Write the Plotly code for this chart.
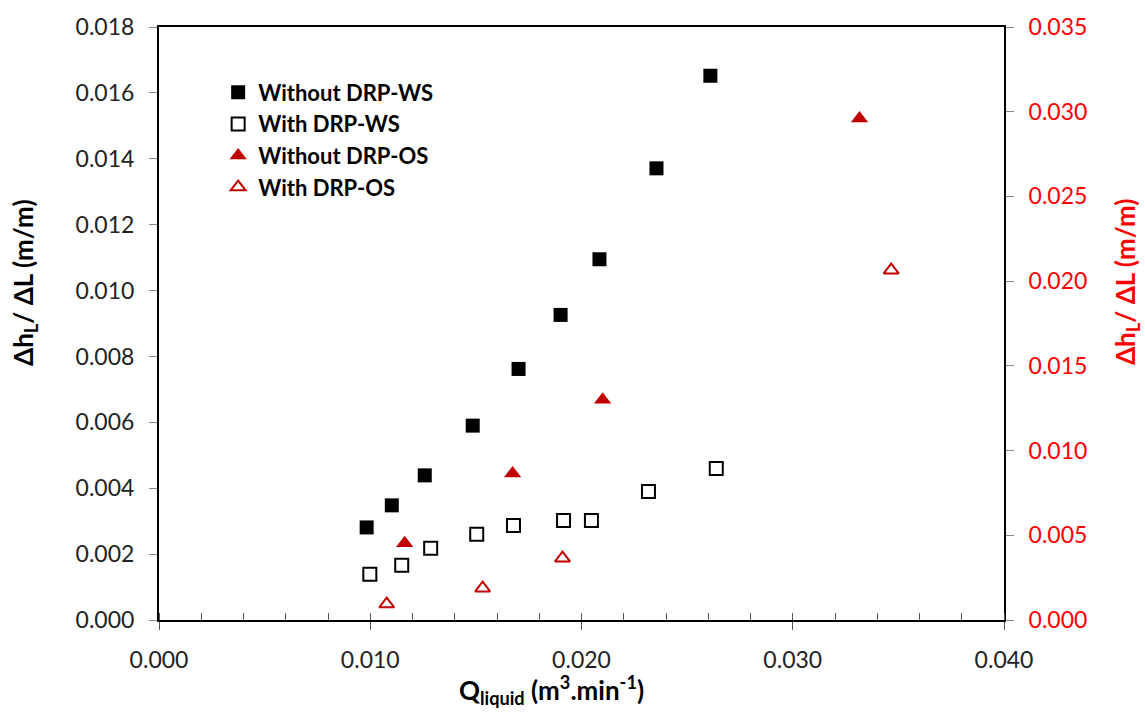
import plotly.graph_objects as go

# Data
q_wo_ws = [0.00983, 0.01102, 0.01258, 0.01485, 0.01702, 0.01901, 0.02085, 0.02355, 0.0261]
h_wo_ws = [0.00281, 0.00348, 0.00439, 0.00590, 0.00762, 0.00926, 0.01095, 0.01371, 0.01652]

q_w_ws = [0.00998, 0.01149, 0.01286, 0.01504, 0.01678, 0.01915, 0.02047, 0.02317, 0.02638]
h_w_ws = [0.00139, 0.00166, 0.00218, 0.00260, 0.00287, 0.00302, 0.00302, 0.00390, 0.00460]

q_wo_os = [0.01163, 0.01674, 0.02100, 0.03316]
h_wo_os = [0.00453, 0.00865, 0.01300, 0.02960]

q_w_os = [0.01078, 0.01532, 0.01910, 0.03466]
h_w_os = [0.00094, 0.00188, 0.00365, 0.02065]

RED = "#C00000"
FONT = "Lato"

fig = go.Figure()
fig.add_trace(go.Scatter(x=q_wo_ws, y=h_wo_ws, mode="markers", name="Without DRP-WS",
                         marker=dict(symbol="square", size=14, color="black")))
fig.add_trace(go.Scatter(x=q_w_ws, y=h_w_ws, mode="markers", name="With DRP-WS",
                         marker=dict(symbol="square-open", size=13, color="black", line=dict(width=2))))
fig.add_trace(go.Scatter(x=q_wo_os, y=h_wo_os, mode="markers", name="Without DRP-OS", yaxis="y2",
                         marker=dict(symbol="triangle-up", size=15, color=RED)))
fig.add_trace(go.Scatter(x=q_w_os, y=h_w_os, mode="markers", name="With DRP-OS", yaxis="y2",
                         marker=dict(symbol="triangle-up-open", size=13, color=RED, line=dict(width=2))))

fig.update_layout(
    width=1145, height=714,
    margin=dict(l=159, r=141, t=25, b=94),
    plot_bgcolor="white", paper_bgcolor="white",
    font=dict(family=FONT, size=22, color="black"),
    showlegend=True,
    legend=dict(x=0.07, y=0.925, xanchor="left", yanchor="top", bgcolor="rgba(0,0,0,0)",
                font=dict(size=22, family=FONT, weight="bold"), tracegroupgap=0, itemwidth=30),
    xaxis=dict(range=[0, 0.040], dtick=0.010, tickformat=".3f", showgrid=False, zeroline=False,
               showline=True, linecolor="black", linewidth=2, mirror=True,
               ticks="outside", ticklen=8, tickcolor="#555", tickwidth=1,
               minor=dict(dtick=0.002, ticks="inside", ticklen=7, tickcolor="#555", tickwidth=1),
               tickfont=dict(size=23, color="#222"), ticklabelstandoff=10),
    yaxis=dict(range=[0, 0.018], dtick=0.002, tickformat=".3f", showgrid=False, zeroline=False,
               showline=True, linecolor="black", linewidth=2,
               ticks="outside", ticklen=8, tickcolor="#888", tickwidth=1,
               tickfont=dict(size=23, color="#222"), ticklabelstandoff=10),
    yaxis2=dict(range=[0, 0.035], dtick=0.005, tickformat=".3f", showgrid=False, zeroline=False,
                overlaying="y", side="right",
                showline=True, linecolor="black", linewidth=2,
                ticks="outside", ticklen=8, tickcolor="#888", tickwidth=1,
                tickfont=dict(size=23, color="#FF0000"), ticklabelstandoff=10),
    annotations=[
        dict(text="<b>Q<sub>liquid</sub> (m<sup>3</sup>.min<sup>-1</sup>)</b>", xref="paper", yref="paper",
             x=0.465, y=-0.118, showarrow=False, xanchor="center", yanchor="middle",
             font=dict(size=26, color="black")),
        dict(text="<b>Δh<sub>L</sub>/ ΔL (m/m)</b>", xref="paper", yref="paper",
             x=-0.1586, y=0.57, textangle=-90, showarrow=False, xanchor="center", yanchor="middle",
             font=dict(size=26, color="black")),
        dict(text="<b>Δh<sub>L</sub>/ ΔL (m/m)</b>", xref="paper", yref="paper",
             x=1.1456, y=0.57, textangle=-90, showarrow=False, xanchor="center", yanchor="middle",
             font=dict(size=26, color="#FF0000")),
    ],
)

fig.write_html("out.html")
